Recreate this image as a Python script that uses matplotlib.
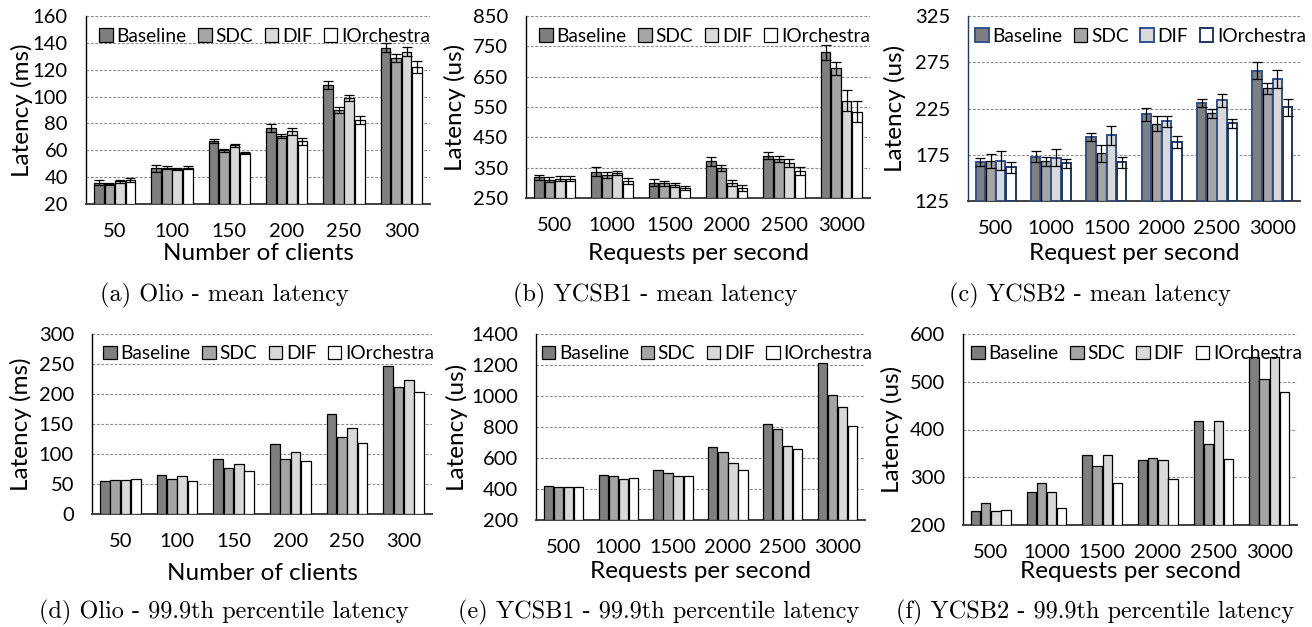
import matplotlib
matplotlib.use('Agg')
import matplotlib.pyplot as plt
import numpy as np

W, H = 1312, 627

series = ['Baseline', 'SDC', 'DIF', 'IOrchestra']
clients = ['50', '100', '150', '200', '250', '300']
rates = ['500', '1000', '1500', '2000', '2500', '3000']

# (a) Olio - mean latency (ms)
a_baseline = [36, 46.5, 67, 76.5, 108.3, 136.4]
a_sdc = [35, 47, 60, 70.6, 90, 128.7]
a_dif = [37, 46, 63.7, 74, 99, 133.4]
a_iorch = [38, 47, 58, 66.7, 82.8, 121.7]
a_err_baseline = [1.5, 2.3, 1.3, 3, 3, 3.5]
a_err_sdc = [1, 1, 1, 1.5, 2.5, 2.7]
a_err_dif = [1, 1, 1, 2.5, 2, 3.5]
a_err_iorch = [1.5, 1, 1, 2.7, 3, 4.5]

# (b) YCSB1 - mean latency (us)
b_baseline = [318, 336, 301, 371, 390, 730]
b_sdc = [310, 325, 299, 349, 380, 677]
b_dif = [314, 332, 293, 299, 365, 571]
b_iorch = [314, 305, 283, 282, 338, 535]
b_err_baseline = [9, 15, 10, 14, 13, 25]
b_err_sdc = [8, 10, 8, 11, 10, 23]
b_err_dif = [7, 6, 6, 11, 13, 35]
b_err_iorch = [9, 10, 8, 10, 13, 36]

# (c) YCSB2 - mean latency (us)
c_baseline = [167.5, 173, 194, 218.7, 230.6, 266]
c_sdc = [168, 168, 176.5, 208.6, 219.8, 246.8]
c_dif = [168.6, 172, 196, 211, 234, 257]
c_iorch = [161.4, 165.7, 166.8, 188.8, 209, 226.3]
c_err_baseline = [4.5, 6, 4, 7, 4.5, 9.5]
c_err_sdc = [7.5, 5, 9, 8, 5, 6]
c_err_dif = [10.5, 9, 10, 6, 7, 10]
c_err_iorch = [6, 4.5, 6, 7, 5, 9]

# (d) Olio - 99.9th percentile latency (ms)
d_baseline = [55.6, 65.6, 92, 116, 166, 246.7]
d_sdc = [56.7, 59, 76, 92, 129, 211]
d_dif = [56.7, 64, 84, 103, 143, 223]
d_iorch = [58.3, 55.6, 72, 89, 118, 203]

# (e) YCSB1 - 99.9th percentile latency (us)
e_baseline = [420, 491, 525, 670, 820, 1215]
e_sdc = [411, 482, 506, 637, 790, 1006]
e_dif = [413, 463, 484, 570, 680, 932]
e_iorch = [415, 469, 482, 523, 659, 807]

# (f) YCSB2 - 99.9th percentile latency (us)
f_baseline = [230, 268.5, 346.7, 337, 418, 551.7]
f_sdc = [246.8, 287, 323, 341, 370, 504.9]
f_dif = [228.7, 268.5, 346, 336, 418, 551.7]
f_iorch = [230.8, 236, 289, 296.5, 337.8, 478.3]

fills = ['#7f7f7f', '#a5a5a5', '#d9d9d9', '#ffffff']
SANS = ['Lato', 'DejaVu Sans']
SERIF = ['cmr10', 'DejaVu Serif']
plt.rcParams['font.family'] = SANS
plt.rcParams['axes.unicode_minus'] = False

fig = plt.figure(figsize=(W / 100, H / 100), dpi=100)


def add_axes_px(l, r, t, b):
    return fig.add_axes([l / W, 1 - b / H, (r - l) / W, (b - t) / H])


panels = [
    dict(box=(86, 430, 16, 204), data=[a_baseline, a_sdc, a_dif, a_iorch],
         err=[a_err_baseline, a_err_sdc, a_err_dif, a_err_iorch],
         cats=clients, yt=np.arange(20, 161, 20), ylab='Latency (ms)',
         xlab='Number of clients', ylabx=22, xlaby=254, cap='(a) Olio - mean latency',
         capxy=(224, 295), edges=None),
    dict(box=(526, 870, 16, 198), data=[b_baseline, b_sdc, b_dif, b_iorch],
         err=[b_err_baseline, b_err_sdc, b_err_dif, b_err_iorch],
         cats=rates, yt=np.arange(250, 851, 100), ylab='Latency (us)',
         xlab='Requests per second', ylabx=455, xlaby=254, cap='(b) YCSB1 - mean latency',
         capxy=(655, 295), edges=None),
    dict(box=(968, 1300, 16, 201), data=[c_baseline, c_sdc, c_dif, c_iorch],
         err=[c_err_baseline, c_err_sdc, c_err_dif, c_err_iorch],
         cats=rates, yt=np.arange(125, 326, 50), ylab='Latency (us)',
         xlab='Request per second', ylabx=895, xlaby=254, cap='(c) YCSB2 - mean latency',
         capxy=(1090, 295), edges=['#2F528F', '#000000', '#2F528F', '#1F3864']),
    dict(box=(92, 432, 334, 514), data=[d_baseline, d_sdc, d_dif, d_iorch], err=None,
         cats=clients, yt=np.arange(0, 301, 50), ylab='Latency (ms)',
         xlab='Number of clients', ylabx=21, xlaby=573,
         cap='(d) Olio - 99.9th percentile latency', capxy=(224, 612), edges=None),
    dict(box=(536, 865, 334, 520), data=[e_baseline, e_sdc, e_dif, e_iorch], err=None,
         cats=rates, yt=np.arange(200, 1401, 200), ylab='Latency (us)',
         xlab='Requests per second', ylabx=457, xlaby=572,
         cap='(e) YCSB1 - 99.9th percentile latency', capxy=(659, 612), edges=None),
    dict(box=(963, 1297, 334, 525), data=[f_baseline, f_sdc, f_dif, f_iorch], err=None,
         cats=rates, yt=np.arange(200, 601, 100), ylab='Latency (us)',
         xlab='Requests per second', ylabx=892, xlaby=572,
         cap='(f) YCSB2 - 99.9th percentile latency', capxy=(1095, 612), edges=None),
]

step = 0.183
bw = 0.168
for p in panels:
    l, r, t, b = p['box']
    ax = add_axes_px(l, r, t, b)
    x = np.arange(len(p['cats']))
    handles = []
    for i, vals in enumerate(p['data']):
        ec = p['edges'][i] if p['edges'] else 'black'
        lw = 1.4 if p['edges'] and i != 1 else 0.9
        ybase = p['yt'][0]
        hb = ax.bar(x + (i - 1.5) * step, np.array(vals) - ybase, bw, bottom=ybase,
                    color=fills[i], edgecolor=ec, linewidth=lw, zorder=3, label=series[i])
        handles.append(hb)
        if p['err'] is not None:
            ax.errorbar(x + (i - 1.5) * step, vals, yerr=p['err'][i], fmt='none',
                        ecolor='black', elinewidth=0.9, capsize=3.8, capthick=0.9, zorder=4)
    ax.set_xlim(-0.5, len(x) - 0.5)
    ax.set_ylim(p['yt'][0], p['yt'][-1])
    ax.set_yticks(p['yt'])
    ax.set_yticklabels([str(v) for v in p['yt']])
    ax.set_xticks(x)
    ax.set_xticklabels(p['cats'])
    ax.tick_params(axis='both', length=0, labelsize=14.5, colors='black')
    ax.tick_params(axis='y', pad=13)
    ax.tick_params(axis='x', pad=14)
    ax.yaxis.grid(True, color='#8c8c8c', linestyle=(0, (2.5, 1.5)), linewidth=0.8, zorder=0)
    ax.set_axisbelow(True)
    for s in ['top', 'right']:
        ax.spines[s].set_visible(False)
    ax.spines['left'].set_color('#1F3864' if p['edges'] else 'black')
    ax.spines['left'].set_linewidth(1.0)
    ax.spines['bottom'].set_color('#404040')
    ax.spines['bottom'].set_linewidth(1.4)
    ax.set_ylabel(p['ylab'], fontsize=17.5)
    ax.yaxis.set_label_coords((p['ylabx'] - l) / (r - l), 0.5)
    ax.set_xlabel(p['xlab'], fontsize=17.5)
    ax.xaxis.set_label_coords(0.5, -(p['xlaby'] - b) / (b - t), )
    ax.xaxis.label.set_va('center')
    ax.yaxis.label.set_va('center')
    leg = ax.legend(handles=handles, loc='upper center', bbox_to_anchor=(0.52, 1.0), ncol=4,
                    frameon=False, fontsize=13.8, handlelength=0.7, handleheight=0.7,
                    handletextpad=0.2, columnspacing=0.6, borderaxespad=0.2)
    fig.text(p['capxy'][0] / W, 1 - p['capxy'][1] / H, p['cap'], family=SERIF,
             fontsize=17.5, ha='center', va='center')

fig.savefig('out.png', dpi=100)
